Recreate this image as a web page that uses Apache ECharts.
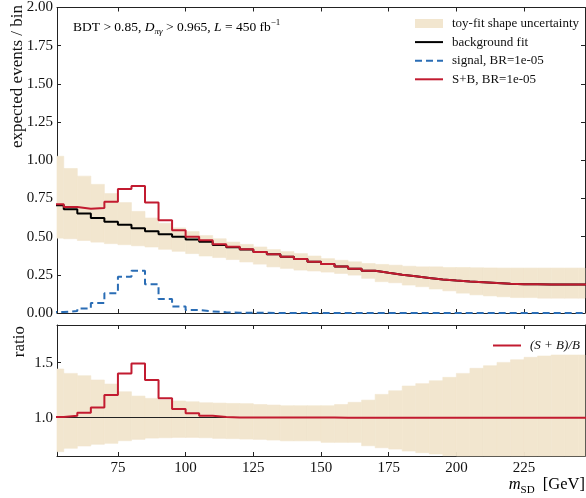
<!DOCTYPE html>
<html>
<head>
<meta charset="utf-8">
<script src="https://cdn.jsdelivr.net/npm/echarts@6/dist/echarts.min.js"></script>
<style>
html, body { margin: 0; padding: 0; background: #fff; }
#chart { width: 586px; height: 498px; }
</style>
</head>
<body>
<div id="chart"></div>
<script>
// bin edges in m_SD [GeV], 5 GeV bins
const binEdges = [50, 55, 60, 65, 70, 75, 80, 85, 90, 95, 100, 105, 110, 115, 120, 125, 130, 135, 140, 145,
  150, 155, 160, 165, 170, 175, 180, 185, 190, 195, 200, 205, 210, 215, 220, 225, 230, 235, 240, 245, 250];

const background = [0.706, 0.680, 0.652, 0.622, 0.598, 0.577, 0.555, 0.535, 0.516, 0.499,
  0.481, 0.466, 0.445, 0.431, 0.416, 0.399, 0.384, 0.368, 0.353, 0.335,
  0.320, 0.304, 0.290, 0.276, 0.263, 0.251, 0.240, 0.229, 0.220, 0.212,
  0.206, 0.201, 0.196, 0.192, 0.189, 0.188, 0.187, 0.186, 0.186, 0.186];

const signal = [0.006, 0.013, 0.030, 0.065, 0.130, 0.237, 0.276, 0.188, 0.091, 0.043,
  0.019, 0.010, 0.005, 0.002, 0.001, 0.001, 0, 0, 0, 0,
  0, 0, 0, 0, 0, 0, 0, 0, 0, 0,
  0, 0, 0, 0, 0, 0, 0, 0, 0, 0];

const sPlusB = [0.712, 0.694, 0.682, 0.687, 0.728, 0.812, 0.831, 0.723, 0.607, 0.542,
  0.500, 0.476, 0.450, 0.433, 0.417, 0.400, 0.384, 0.368, 0.353, 0.335,
  0.320, 0.304, 0.290, 0.276, 0.263, 0.251, 0.240, 0.229, 0.220, 0.212,
  0.206, 0.201, 0.196, 0.192, 0.189, 0.188, 0.187, 0.186, 0.186, 0.186];

const bandHi = [1.026, 0.946, 0.896, 0.842, 0.782, 0.723, 0.665, 0.622, 0.587, 0.557,
  0.533, 0.507, 0.486, 0.464, 0.449, 0.432, 0.415, 0.402, 0.389, 0.373,
  0.356, 0.345, 0.335, 0.324, 0.318, 0.313, 0.306, 0.302, 0.302, 0.298,
  0.298, 0.296, 0.295, 0.294, 0.294, 0.294, 0.294, 0.294, 0.294, 0.294];

const bandLo = [0.490, 0.486, 0.475, 0.464, 0.454, 0.447, 0.440, 0.432, 0.417, 0.404,
  0.389, 0.373, 0.363, 0.350, 0.334, 0.320, 0.302, 0.292, 0.281, 0.275,
  0.268, 0.259, 0.248, 0.227, 0.205, 0.198, 0.183, 0.172, 0.157, 0.145,
  0.130, 0.119, 0.112, 0.106, 0.101, 0.101, 0.097, 0.097, 0.097, 0.097];

const ratio = [1.006, 1.018, 1.045, 1.094, 1.206, 1.403, 1.494, 1.343, 1.176, 1.079,
  1.040, 1.018, 1.006, 1.003, 1.002, 1.001, 1.001, 1.001, 1.001, 1.001,
  1.001, 1.000, 1.000, 1.000, 1.000, 1.000, 1.000, 1.000, 1.000, 1.000,
  1.000, 1.000, 1.000, 1.000, 1.000, 1.000, 1.000, 1.000, 1.000, 1.000];

const ratioHi = [1.443, 1.403, 1.382, 1.343, 1.306, 1.236, 1.197, 1.176, 1.161, 1.152,
  1.145, 1.136, 1.133, 1.130, 1.128, 1.120, 1.115, 1.109, 1.109, 1.109,
  1.109, 1.120, 1.140, 1.160, 1.212, 1.245, 1.288, 1.310, 1.336, 1.367,
  1.403, 1.449, 1.473, 1.503, 1.527, 1.549, 1.561, 1.570, 1.570, 1.570];

const ratioLo = [0.691, 0.722, 0.743, 0.758, 0.767, 0.791, 0.803, 0.815, 0.818, 0.821,
  0.821, 0.818, 0.812, 0.810, 0.806, 0.803, 0.797, 0.790, 0.790, 0.790,
  0.776, 0.776, 0.776, 0.745, 0.727, 0.715, 0.697, 0.682, 0.670, 0.655,
  0.620, 0.590, 0.570, 0.550, 0.530, 0.520, 0.510, 0.510, 0.510, 0.510];

const xTicks = [75, 100, 125, 150, 175, 200, 225];
const ratioTicks = [1.0, 1.5];

const RED = '#c21b30';
const BLUE = '#2a6db5';
const BAND = '#f2e6cf';
const AXIS = '#222';
const FONT = '"Liberation Serif", "DejaVu Serif", serif';

// histogram points: one point per left edge + closing point at the last edge
function steps(vals) {
  const pts = vals.map((v, i) => [binEdges[i], v]);
  pts.push([binEdges[vals.length], vals[vals.length - 1]]);
  return pts;
}
// one row per bin: [left edge, right edge, low, high]
function bandRows(lo, hi) {
  return lo.map((v, i) => [binEdges[i], binEdges[i + 1], v, hi[i]]);
}

function xAx(grid, pos, labels) {
  return {
    type: 'value', gridIndex: grid, position: pos, min: 52.5, max: 247.5,
    axisLine: { show: true, onZero: false, lineStyle: { color: AXIS, width: 1 } },
    axisTick: { show: true, inside: true, length: 4, customValues: xTicks, lineStyle: { color: AXIS } },
    axisLabel: { show: labels, customValues: xTicks, color: '#111', fontFamily: FONT, fontSize: 15, margin: 5 },
    splitLine: { show: false }
  };
}
function yTop(pos, labels) {
  return {
    type: 'value', gridIndex: 0, position: pos, min: 0, max: 2, interval: 0.25,
    axisLine: { show: true, lineStyle: { color: AXIS, width: 1 } },
    axisTick: { show: true, inside: true, length: 4, lineStyle: { color: AXIS } },
    axisLabel: { show: labels, color: '#111', fontFamily: FONT, fontSize: 15, margin: 4,
      formatter: v => v.toFixed(2) },
    splitLine: { show: false }
  };
}
function yBot(pos, labels) {
  return {
    type: 'value', gridIndex: 1, position: pos, min: 0.652, max: 1.843,
    axisLine: { show: true, lineStyle: { color: AXIS, width: 1 } },
    axisTick: { show: true, inside: true, length: 4, customValues: ratioTicks, lineStyle: { color: AXIS } },
    axisLabel: { show: labels, customValues: ratioTicks, color: '#111', fontFamily: FONT, fontSize: 15, margin: 4,
      formatter: v => v.toFixed(1) },
    splitLine: { show: false }
  };
}

function stepLine(name, data, xi, yi, color, width, type, z) {
  return {
    name: name, type: 'line', xAxisIndex: xi, yAxisIndex: yi, data: data,
    step: 'end', symbol: 'none', clip: true, silent: true, z: z,
    itemStyle: { color: color },
    lineStyle: { color: color, width: width, type: type }
  };
}

function renderBand(params, api) {
  const p0 = api.coord([api.value(0), api.value(3)]);
  const p1 = api.coord([api.value(1), api.value(2)]);
  const rect = echarts.graphic.clipRectByRect(
    { x: p0[0], y: p0[1], width: p1[0] - p0[0], height: p1[1] - p0[1] },
    { x: params.coordSys.x, y: params.coordSys.y, width: params.coordSys.width, height: params.coordSys.height }
  );
  if (!rect) return;
  return { type: 'rect', shape: rect, style: { fill: BAND, stroke: BAND, lineWidth: 0.6 } };
}
function bandSeries(name, lo, hi, xi, yi) {
  return {
    name: name, type: 'custom', xAxisIndex: xi, yAxisIndex: yi, silent: true, z: 1,
    itemStyle: { color: BAND },
    renderItem: renderBand,
    encode: { x: [0, 1], y: [2, 3] },
    data: bandRows(lo, hi)
  };
}

const chart = echarts.init(document.getElementById('chart'));

const ratioLine = stepLine('(S + B)/B', steps(ratio), 2, 2, RED, 2, 'solid', 5);
ratioLine.markLine = {
  silent: true, symbol: 'none', label: { show: false },
  lineStyle: { color: AXIS, width: 1, type: 'solid' },
  data: [{ yAxis: 1 }]
};

chart.setOption({
  animation: false,
  backgroundColor: '#fff',
  grid: [
    { left: 57, right: 1, top: 5, height: 308 },
    { left: 57, right: 1, top: 325, height: 131 }
  ],
  xAxis: [xAx(0, 'bottom', false), xAx(0, 'top', false), xAx(1, 'bottom', true), xAx(1, 'top', false)],
  yAxis: [yTop('left', true), yTop('right', false), yBot('left', true), yBot('right', false)],
  legend: [
    {
      left: 409, top: 12, orient: 'vertical', itemWidth: 28, itemHeight: 9, itemGap: 5.6,
      selectedMode: false,
      itemStyle: { opacity: 0 },
      textStyle: { fontFamily: FONT, fontSize: 13, color: '#111', padding: [0, 0, 0, 4] },
      data: [
        { name: 'toy-fit shape uncertainty', icon: 'rect', itemStyle: { color: BAND, opacity: 1 } },
        'background fit', 'signal, BR=1e-05', 'S+B, BR=1e-05'
      ]
    },
    {
      left: 487, top: 334, orient: 'vertical', itemWidth: 28, itemHeight: 9,
      selectedMode: false,
      itemStyle: { opacity: 0 },
      textStyle: { fontFamily: FONT, fontSize: 13, fontStyle: 'italic', color: '#111', padding: [0, 0, 0, 4] },
      data: ['(S + B)/B']
    }
  ],
  graphic: [
    {
      type: 'text', left: 73, top: 18, silent: true, z: 10,
      style: {
        text: '{n|BDT > 0.85, }{i|D}{s|πγ}{n| > 0.965, }{i|L}{n| = 450 fb}{u|−1}',
        rich: {
          n: { fontFamily: FONT, fontSize: 13.5, color: '#111', lineHeight: 18, verticalAlign: 'middle' },
          i: { fontFamily: FONT, fontSize: 13.5, fontStyle: 'italic', color: '#111', lineHeight: 18, verticalAlign: 'middle' },
          s: { fontFamily: FONT, fontSize: 9, fontStyle: 'italic', color: '#111', lineHeight: 18, verticalAlign: 'bottom' },
          u: { fontFamily: FONT, fontSize: 9, color: '#111', lineHeight: 18, verticalAlign: 'top' }
        }
      }
    },
    {
      type: 'text', x: 18, y: 5, rotation: Math.PI / 2, silent: true,
      style: { text: 'expected events / bin', fontFamily: FONT, fontSize: 17, fill: '#111',
        align: 'right', verticalAlign: 'middle' }
    },
    {
      type: 'text', x: 20, y: 326, rotation: Math.PI / 2, silent: true,
      style: { text: 'ratio', fontFamily: FONT, fontSize: 17, fill: '#111',
        align: 'right', verticalAlign: 'middle' }
    },
    {
      type: 'text', right: 1, top: 476, silent: true,
      style: {
        text: '{i|m}{s|SD}{n|  [GeV]}',
        rich: {
          n: { fontFamily: FONT, fontSize: 16.5, color: '#111', lineHeight: 22, verticalAlign: 'middle' },
          i: { fontFamily: FONT, fontSize: 16.5, fontStyle: 'italic', color: '#111', lineHeight: 22, verticalAlign: 'middle' },
          s: { fontFamily: FONT, fontSize: 11, color: '#111', lineHeight: 22, verticalAlign: 'bottom' }
        }
      }
    }
  ],
  series: [
    bandSeries('toy-fit shape uncertainty', bandLo, bandHi, 0, 0),
    stepLine('background fit', steps(background), 0, 0, '#000', 2, 'solid', 3),
    stepLine('signal, BR=1e-05', steps(signal), 0, 0, BLUE, 2, [7, 4], 4),
    stepLine('S+B, BR=1e-05', steps(sPlusB), 0, 0, RED, 2, 'solid', 5),
    bandSeries('ratio band', ratioLo, ratioHi, 2, 2),
    ratioLine
  ]
});

window.addEventListener('resize', function () {
  chart.resize();
});
</script>
</body>
</html>
